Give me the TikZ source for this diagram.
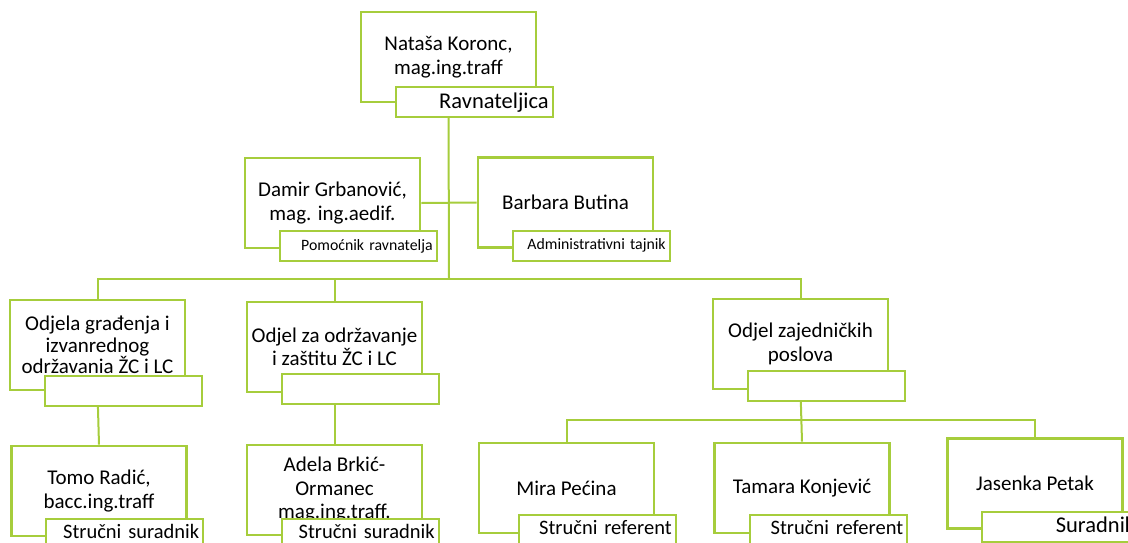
\documentclass[tikz,border=0pt]{standalone}
\usepackage{fontspec}
\setmainfont{Carlito}
\definecolor{leaf}{RGB}{166,205,60}
\begin{document}
\begin{tikzpicture}[x=1pt,y=-1pt,
    unit/.style={draw=leaf, line width=2.6pt, fill=white, minimum width=175pt, minimum height=90pt,
      align=center, font=\fontsize{21}{23.5}\selectfont},
    role/.style={draw=leaf, line width=2pt, fill=white, anchor=north west, minimum width=157pt,
      minimum height=30pt, text width=149pt, align=right, inner xsep=4pt},
    link/.style={draw=leaf, line width=2pt}]
  \clip (0,0) rectangle (1128,542);

  % boxes
  \node[unit] (nat) at (448.5,57) {Nataša Koronc,\\mag.ing.traff};
  \node[unit] (dam) at (332.5,203) {Damir Grbanović,\\mag. ing.aedif.};
  \node[unit] (bar) at (565.5,202.5) {Barbara Butina};
  \node[unit, font=\fontsize{21}{21.5}\selectfont] (odj) at (97.5,345) {Odjela građenja i\\izvanrednog\\održavania ŽC i LC};
  \node[unit] (odr) at (334.5,347) {Odjel za održavanje\\i zaštitu ŽC i LC};
  \node[unit] (zaj) at (800.5,344) {Odjel zajedničkih\\poslova};
  \node[unit] (tom) at (99,491) {Tomo Radić,\\bacc.ing.traff};
  \node[unit] (ade) at (334.5,490) {Adela Brkić-\\Ormanec\\mag.ing.traff.};
  \node[unit] (mir) at (566.5,488) {Mira Pećina};
  \node[unit] (tam) at (802,488) {Tamara Konjević};
  \node[unit] (jas) at (1035,483.5) {Jasenka Petak};

  % connectors
  \coordinate (bus1) at (449,279);
  \coordinate (bus2) at (800.5,420);
  \draw[link] (nat.south) -- (bus1);
  \draw[link] (dam.east) -- (bar.west);
  \draw[link] (odj.north) |- (bus1) -| (zaj.north);
  \draw[link] (odr.north) -- (odr.north |- bus1);
  \draw[link] (odj.south) -- (tom.north);
  \draw[link] (odr.south) -- (ade.north);
  \draw[link] (zaj.south) -- (tam.north);
  \draw[link] (mir.north) |- (bus2) -| (jas.north);

  % roles
  \node[role, font=\fontsize{22.5}{25}\selectfont] (natr) at ([xshift=35pt,yshift=17pt]nat.south west) {Ravnateljica};
  \node[role, font=\fontsize{15.8}{18}\selectfont] (damr) at ([xshift=35pt,yshift=19pt]dam.south west) {Pomoćnik ravnatelja};
  \node[role, font=\fontsize{15.8}{18}\selectfont] (barr) at ([xshift=35pt,yshift=19pt]bar.south west) {Administrativni tajnik};
  \node[role] (odjr) at ([xshift=35pt,yshift=16pt]odj.south west) {};
  \node[role] (odrr) at ([xshift=35pt,yshift=20pt]odr.south west) {};
  \node[role] (zajr) at ([xshift=35pt,yshift=20pt]zaj.south west) {};
  \node[role, text depth=5pt, font=\fontsize{20.5}{23}\selectfont] (tomr) at ([xshift=35pt,yshift=19pt]tom.south west) {Stručni suradnik};
  \node[role, text depth=5pt, font=\fontsize{20.5}{23}\selectfont] (ader) at ([xshift=35pt,yshift=18pt]ade.south west) {Stručni suradnik};
  \node[role, text depth=5pt, font=\fontsize{20.5}{23}\selectfont] (mirr) at ([xshift=40pt,yshift=20pt]mir.south west) {Stručni referent};
  \node[role, text depth=5pt, font=\fontsize{20.5}{23}\selectfont] (tamr) at ([xshift=36pt,yshift=20pt]tam.south west) {Stručni referent};
  \node[role, text depth=5pt, font=\fontsize{22.5}{25}\selectfont] (jasr) at ([xshift=35pt,yshift=19pt]jas.south west) {Suradnik};
\end{tikzpicture}
\end{document}
